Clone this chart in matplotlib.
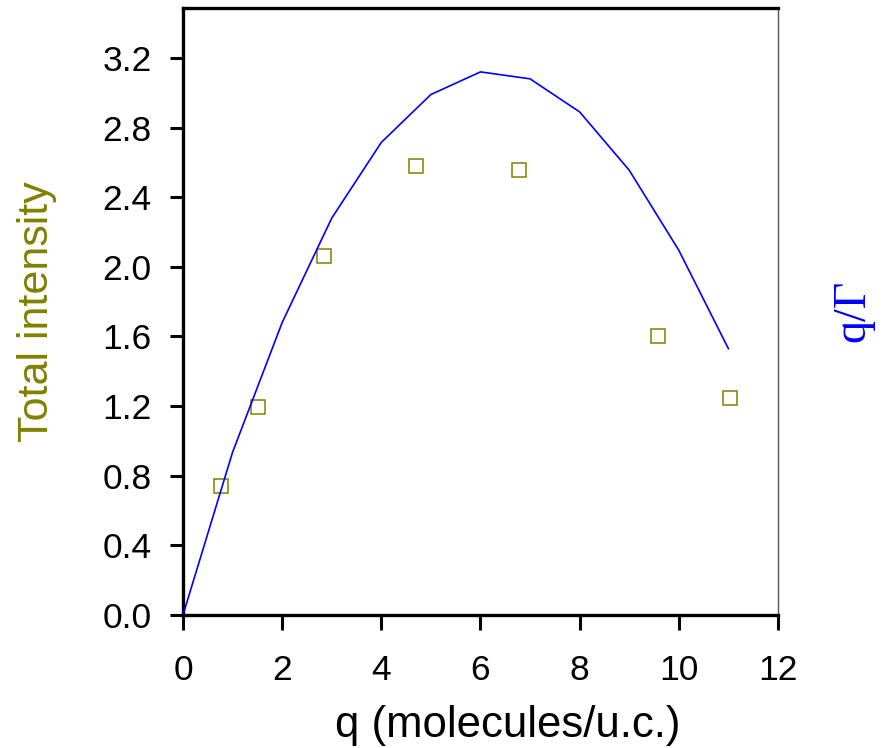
import numpy as np
import matplotlib.pyplot as plt

# Measured points (open squares)
q_pts = [0.77, 1.51, 2.84, 4.70, 6.77, 9.58, 11.03]
intensity = [0.74, 1.195, 2.06, 2.58, 2.555, 1.60, 1.245]

# q/Gamma curve (drawn on the same scale as the left axis)
q_line = [0, 1, 2, 3, 4, 5, 6, 7, 8, 9, 10, 11]
q_gamma = [0.0, 0.935, 1.68, 2.28, 2.715, 2.99, 3.12, 3.08, 2.89, 2.555, 2.095, 1.53]

yticks = [0.0, 0.4, 0.8, 1.2, 1.6, 2.0, 2.4, 2.8, 3.2]

plt.rcParams['font.family'] = ['Liberation Sans', 'DejaVu Sans']

fig = plt.figure(figsize=(8.87, 7.48), dpi=100)
ax = fig.add_axes([0.2063, 0.1778, 0.6708, 0.8115])

ax.plot(q_pts, intensity, linestyle='none', marker='s', markersize=10.5,
        markerfacecolor='none', markeredgecolor='#808000', markeredgewidth=1.1, zorder=2)
ax.plot(q_line, q_gamma, color='#0000ff', lw=1.2, zorder=3)

ax.set_xlim(0, 12)
ax.set_ylim(0, 3.487)
ax.set_xticks(range(0, 13, 2))
ax.set_yticks(yticks)
ax.set_yticklabels(['%.1f' % v for v in yticks])

for s in ['left', 'bottom', 'top']:
    ax.spines[s].set_linewidth(2.4)
    ax.spines[s].set_color('black')
ax.spines['right'].set_linewidth(1.0)
ax.spines['right'].set_color('#555555')

ax.tick_params(axis='x', direction='out', length=11, width=2.2, labelsize=25.5, pad=17)
ax.tick_params(axis='y', direction='out', length=9.5, width=2.2, labelsize=25.5, pad=13)

ax.set_xlabel('q (molecules/u.c.)', fontsize=31.5, labelpad=13)
ax.xaxis.label.set_x(0.545)
ax.set_ylabel('Total intensity', fontsize=31, color='#808000', labelpad=33)

fig.text(0.962, 0.585, 'q/\u0393', rotation=90, color='#0000ff', fontsize=33,
         family=['Liberation Serif', 'DejaVu Serif'], ha='center', va='center')

fig.savefig('out.png', dpi=100)
